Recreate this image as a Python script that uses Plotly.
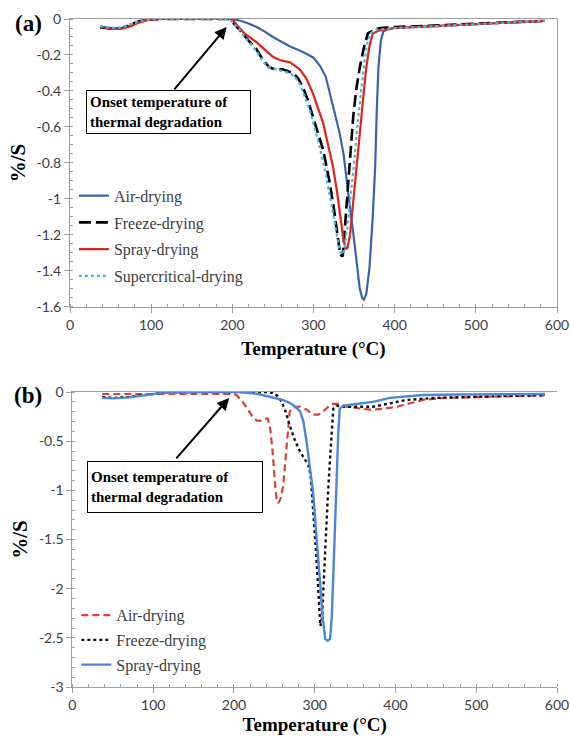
import plotly.graph_objects as go

# ---------------- Panel (a) data ----------------
a_air_T = [37, 45, 55, 65, 75, 85, 95, 110, 150, 200, 210, 220, 230, 240, 250, 260, 270, 280, 290, 300,
           308, 315, 320, 326, 332, 337, 341, 345, 349, 353, 357, 360, 362, 365, 369, 373, 376, 378, 380,
           383, 386, 390, 400, 450, 500, 550, 585]
a_air_v = [-0.045, -0.05, -0.052, -0.05, -0.035, -0.015, -0.005, 0, 0, 0, -0.01, -0.025, -0.045, -0.07,
           -0.1, -0.125, -0.15, -0.17, -0.19, -0.215, -0.26, -0.32, -0.41, -0.52, -0.63, -0.75, -0.91,
           -1.05, -1.19, -1.35, -1.5, -1.55, -1.56, -1.53, -1.38, -1.1, -0.82, -0.5, -0.27, -0.12, -0.07,
           -0.06, -0.05, -0.04, -0.03, -0.02, -0.01]

a_frz_T = [37, 45, 53, 65, 75, 85, 95, 110, 150, 195, 201, 210, 220, 230, 238, 246, 254, 262, 268, 275,
           281, 287, 293, 299, 305, 312, 316, 320, 325, 329, 333, 336, 341, 345, 349, 353, 357, 362, 367,
           375, 382, 400, 450, 500, 550, 585]
a_frz_v = [-0.045, -0.05, -0.055, -0.05, -0.03, -0.012, -0.004, 0, 0, 0, -0.02, -0.07, -0.12, -0.17,
           -0.23, -0.27, -0.28, -0.28, -0.29, -0.30, -0.33, -0.38, -0.45, -0.54, -0.63, -0.73, -0.82,
           -0.91, -1.05, -1.19, -1.31, -1.32, -1.0, -0.76, -0.54, -0.38, -0.27, -0.16, -0.08, -0.06,
           -0.05, -0.045, -0.035, -0.025, -0.015, -0.01]

a_spr_T = [37, 45, 55, 65, 75, 85, 95, 110, 150, 200, 205, 215, 230, 240, 250, 260, 271, 283, 291, 299,
           305, 312, 318, 324, 329, 333, 337, 340, 342, 345, 349, 353, 357, 361, 365, 369, 373, 380, 386,
           400, 450, 500, 550, 585]
a_spr_v = [-0.04, -0.05, -0.055, -0.052, -0.04, -0.02, -0.006, 0, 0, 0, -0.03, -0.08, -0.13, -0.17,
           -0.21, -0.23, -0.24, -0.28, -0.33, -0.41, -0.49, -0.58, -0.7, -0.82, -0.96, -1.1, -1.23, -1.28,
           -1.27, -1.2, -1.0, -0.82, -0.64, -0.45, -0.27, -0.15, -0.08, -0.065, -0.06, -0.05, -0.04,
           -0.03, -0.02, -0.01]

a_sup_T = [37, 45, 55, 65, 75, 85, 95, 110, 150, 195, 201, 210, 220, 230, 238, 246, 254, 262, 270, 277,
           283, 289, 295, 301, 307, 313, 318, 323, 328, 332, 335, 338, 342, 346, 350, 354, 358, 362, 366,
           370, 376, 385, 400, 450, 500, 550, 585]
a_sup_v = [-0.04, -0.045, -0.05, -0.045, -0.03, -0.012, -0.004, 0, 0, 0, -0.02, -0.07, -0.12, -0.18,
           -0.24, -0.27, -0.28, -0.29, -0.30, -0.32, -0.36, -0.43, -0.5, -0.6, -0.7, -0.82, -0.93, -1.05,
           -1.18, -1.28, -1.31, -1.28, -1.15, -0.98, -0.8, -0.6, -0.42, -0.26, -0.14, -0.08, -0.06,
           -0.055, -0.05, -0.04, -0.03, -0.02, -0.01]

# ---------------- Panel (b) data ----------------
b_air_T = [37, 60, 100, 150, 200, 203, 210, 216, 222, 228, 234, 238, 242, 245, 248, 251, 253, 255, 258,
           261, 263, 265, 267, 269, 273, 278, 282, 290, 298, 305, 310, 317, 323, 330, 340, 355, 368, 385,
           402, 420, 434, 460, 500, 550, 585]
b_air_v = [-0.02, -0.02, -0.02, -0.02, -0.02, -0.03, -0.09, -0.16, -0.24, -0.29, -0.29, -0.27, -0.27,
           -0.38, -0.62, -0.95, -1.1, -1.13, -1.08, -0.95, -0.75, -0.51, -0.32, -0.2, -0.16, -0.15, -0.15,
           -0.18, -0.23, -0.23, -0.2, -0.15, -0.12, -0.12, -0.15, -0.17, -0.18, -0.17, -0.15, -0.11,
           -0.08, -0.06, -0.05, -0.04, -0.035]

b_frz_T = [37, 50, 70, 90, 110, 150, 200, 240, 248, 254, 259, 264, 269, 275, 282, 287, 292, 295, 298,
           301, 304, 306, 307, 309, 311, 313, 316, 319, 321, 323, 327, 335, 350, 372, 390, 414, 450, 500,
           550, 585]
b_frz_v = [-0.05, -0.06, -0.05, -0.03, -0.01, 0, 0, 0, -0.01, -0.04, -0.1, -0.2, -0.34, -0.48, -0.61,
           -0.68, -0.74, -0.85, -1.18, -1.55, -1.95, -2.3, -2.38, -2.3, -1.95, -1.53, -1.1, -0.67, -0.4,
           -0.17, -0.14, -0.15, -0.15, -0.15, -0.12, -0.08, -0.06, -0.05, -0.04, -0.03]

b_spr_T = [37, 50, 70, 90, 110, 150, 207, 230, 249, 260, 269, 276, 282, 286, 290, 294, 298, 302, 306,
           310, 313, 316, 319, 321, 323, 325, 327, 329, 331, 335, 344, 360, 372, 393, 434, 480, 530, 585]
b_spr_v = [-0.06, -0.065, -0.055, -0.03, -0.01, 0, 0, -0.02, -0.06, -0.08, -0.11, -0.15, -0.2, -0.3,
           -0.51, -0.75, -1.02, -1.45, -1.87, -2.3, -2.51, -2.53, -2.51, -2.3, -1.87, -1.35, -0.85,
           -0.45, -0.17, -0.14, -0.13, -0.11, -0.1, -0.06, -0.03, -0.025, -0.02, -0.02]

# ---------------- tick labels ----------------
x_ticks = [0, 100, 200, 300, 400, 500, 600]
x_tick_text = ["0", "100", "200", "300", "400", "500", "600"]
a_y_ticks = [0, -0.2, -0.4, -0.6, -0.8, -1.0, -1.2, -1.4, -1.6]
a_y_tick_text = ["0", "-0.2", "-0.4", "-0.6", "-0.8", "-1", "-1.2", "-1.4", "-1.6"]
b_y_ticks = [0, -0.5, -1.0, -1.5, -2.0, -2.5, -3.0]
b_y_tick_text = ["0", "-0.5", "-1", "-1.5", "-2", "-2.5", "-3"]

a_names = ["Air-drying", "Freeze-drying", "Spray-drying", "Supercritical-drying"]
b_names = ["Air-drying", "Freeze-drying", "Spray-drying"]

SERIF = "Liberation Serif, Times New Roman, serif"
SANS = "Lato, Open Sans, sans-serif"
AXC = "#a0a0a0"
TXT = "#404040"

fig = go.Figure()

# Panel a traces
fig.add_trace(go.Scatter(x=a_air_T, y=a_air_v, name=a_names[0], mode="lines",
                         line=dict(color="#3d62ab", width=2.2), xaxis="x", yaxis="y",
                         legend="legend", legendgroup="a1"))
fig.add_trace(go.Scatter(x=a_frz_T, y=a_frz_v, name=a_names[1], mode="lines",
                         line=dict(color="#000000", width=2.6, dash="12px,5px"), xaxis="x", yaxis="y",
                         legend="legend", legendgroup="a2"))
fig.add_trace(go.Scatter(x=a_spr_T, y=a_spr_v, name=a_names[2], mode="lines",
                         line=dict(color="#e0231c", width=2.2), xaxis="x", yaxis="y",
                         legend="legend", legendgroup="a3"))
fig.add_trace(go.Scatter(x=a_sup_T, y=a_sup_v, name=a_names[3], mode="lines",
                         line=dict(color="#40b8e4", width=2.2, dash="dot"), xaxis="x", yaxis="y",
                         legend="legend", legendgroup="a4"))

# Panel b traces
fig.add_trace(go.Scatter(x=b_air_T, y=b_air_v, name=b_names[0], mode="lines",
                         line=dict(color="#d8403c", width=2.2, dash="7px,4px"), xaxis="x2", yaxis="y2",
                         legend="legend2", legendgroup="b1"))
fig.add_trace(go.Scatter(x=b_frz_T, y=b_frz_v, name=b_names[1], mode="lines",
                         line=dict(color="#111111", width=2.4, dash="dot"), xaxis="x2", yaxis="y2",
                         legend="legend2", legendgroup="b2"))
fig.add_trace(go.Scatter(x=b_spr_T, y=b_spr_v, name=b_names[2], mode="lines",
                         line=dict(color="#4a88d6", width=2.4), xaxis="x2", yaxis="y2",
                         legend="legend2", legendgroup="b3"))

axis_common = dict(showgrid=False, zeroline=False, showline=True, linecolor=AXC, linewidth=1,
                   ticks="outside", ticklen=5, tickcolor=AXC,
                   tickfont=dict(family=SANS, size=14, color=TXT))

title_font = dict(family=SERIF, size=19, color="#000")
ytitle_font = dict(family=SERIF, size=21, color="#000")

fig.update_layout(
    width=570, height=736,
    margin=dict(l=70, r=13, t=19, b=49, autoexpand=False),
    paper_bgcolor="white", plot_bgcolor="white",
    xaxis=dict(domain=[0, 1], anchor="y", range=[0, 600], tickvals=x_ticks, ticktext=x_tick_text,
               mirror=True, minor=dict(ticks="inside", dtick=20, ticklen=3, tickcolor=AXC),
               title=dict(text="<b>Temperature (°C)</b>", font=title_font, standoff=9),
               **axis_common),
    yaxis=dict(domain=[0.569, 1], anchor="x", range=[-1.6, 0], tickvals=a_y_ticks, ticktext=a_y_tick_text,
               mirror=True, minor=dict(ticks="inside", dtick=0.05, ticklen=3, tickcolor=AXC),
               title=dict(text="<b>%/S</b>", font=ytitle_font, standoff=5),
               **axis_common),
    xaxis2=dict(domain=[0.005, 1], anchor="y2", range=[0, 600], tickvals=x_ticks, ticktext=x_tick_text,
                mirror=True, minor=dict(ticks="inside", dtick=20, ticklen=3, tickcolor=AXC),
                title=dict(text="<b>Temperature (°C)</b>", font=title_font, standoff=8),
                **axis_common),
    yaxis2=dict(domain=[0, 0.4416], anchor="x2", range=[-3, 0], tickvals=b_y_ticks, ticktext=b_y_tick_text,
                minor=dict(ticks="inside", dtick=0.1, ticklen=3, tickcolor=AXC),
                title=dict(text="<b>%/S</b>", font=ytitle_font, standoff=5),
                **axis_common),
    legend=dict(x=0.008, y=0.761, xanchor="left", yanchor="top", bgcolor="rgba(0,0,0,0)",
                font=dict(family=SERIF, size=16, color=TXT), tracegroupgap=3, itemwidth=30),
    legend2=dict(x=0.013, y=0.133, xanchor="left", yanchor="top", bgcolor="rgba(0,0,0,0)",
                 font=dict(family=SERIF, size=16, color=TXT), tracegroupgap=1, itemwidth=30),
    showlegend=True,
)

box_text = "<b>Onset temperature of<br>thermal degradation</b>"
fig.add_annotation(x=121, y=-0.517, xref="x", yref="y", text=box_text, showarrow=False, align="left",
                   font=dict(family=SERIF, size=15, color="#000"), bordercolor="#000", borderwidth=1,
                   borderpad=3, bgcolor="white", width=157, height=36)
fig.add_annotation(x=193, y=-0.044, xref="x", yref="y", ax=127, ay=-0.40, axref="x", ayref="y",
                   text="", showarrow=True, arrowhead=2, arrowsize=1.2, arrowwidth=2, arrowcolor="#000")
fig.add_annotation(x=126.5, y=-0.97, xref="x2", yref="y2", text=box_text, showarrow=False, align="left",
                   font=dict(family=SERIF, size=15, color="#000"), bordercolor="#000", borderwidth=1,
                   borderpad=3, bgcolor="white", width=168, height=44)
fig.add_annotation(x=194, y=-0.06, xref="x2", yref="y2", ax=127, ay=-0.69, axref="x2", ayref="y2",
                   text="", showarrow=True, arrowhead=2, arrowsize=1.2, arrowwidth=2, arrowcolor="#000")

plot_w = 570 - 70 - 13
plot_h = 736 - 19 - 49
fig.add_annotation(x=(28 - 70) / plot_w, y=(687 - 23) / plot_h, xref="paper", yref="paper",
                   xanchor="center", yanchor="middle", text="<b>(a)</b>", showarrow=False,
                   font=dict(family=SERIF, size=23, color="#000"))
fig.add_annotation(x=(28 - 70) / plot_w, y=(687 - 395) / plot_h, xref="paper", yref="paper",
                   xanchor="center", yanchor="middle", text="<b>(b)</b>", showarrow=False,
                   font=dict(family=SERIF, size=23, color="#000"))

fig.write_html("out.html", config={"displayModeBar": False},
               post_script="document.body.style.margin='0px';document.body.style.overflow='hidden';")
